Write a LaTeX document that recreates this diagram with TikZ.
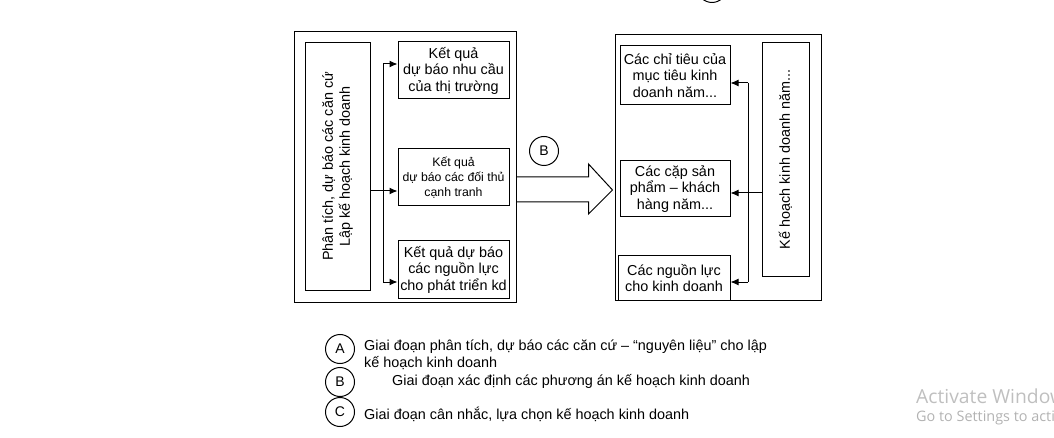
\documentclass[tikz,border=0pt]{standalone}
\usepackage{fontspec}
\setmainfont{Liberation Sans}
\newfontfamily\wmfont{Open Sans}
\usetikzlibrary{arrows.meta,positioning,calc}

\tikzset{
  khung/.style={draw,line width=1pt},
  hop/.style={draw,line width=1pt,inner sep=1pt,align=center,font=\fontsize{14.4}{16.5}\selectfont},
  hopdoc/.style={hop,rotate=90,font=\fontsize{14.4}{17}\selectfont},
  vong/.style={draw,circle,line width=1pt,minimum size=29pt,inner sep=0pt,font=\fontsize{14}{16}\selectfont},
  chuthich/.style={anchor=west,align=left,inner sep=0pt,font=\fontsize{14.4}{17}\selectfont},
  mui/.style={line width=1pt,-{Latex[length=8pt,width=7pt]}},
}

\begin{document}
\begin{tikzpicture}[x=1pt,y=-1pt]
  \useasboundingbox (0,0) rectangle (1054,438);
  \clip (0,0) rectangle (1054,438);
  % giai doan A
  \node[khung,minimum width=222pt,minimum height=270pt] (outerA) at (405,167) {};
  \node[hopdoc,minimum width=247pt,minimum height=65pt] (phantich) at (337.5,166.5)
    {Phân tích, dự báo các căn cứ\\Lập kế hoạch kinh doanh};
  \node[hop,minimum width=111pt,minimum height=57pt] (kq1) at (453.5,70.5)
    {Kết quả\\dự báo nhu cầu\\của thị trường};
  \node[hop,minimum width=111pt,minimum height=57pt,font=\fontsize{12.3}{15}\selectfont] (kq2) at (453.5,177.5)
    {Kết quả\\dự báo các đối thủ\\cạnh tranh};
  \node[hop,minimum width=111pt,minimum height=57pt] (kq3) at (453.5,269.5)
    {Kết quả dự báo\\các nguồn lực\\cho phát triển kd};
  \coordinate (jA) at (383,191);
  \coordinate (jAtop) at (383,64);
  \coordinate (jAbot) at (383,282);
  \draw[line width=1pt] (phantich.south |- jA) -- (jA);
  \draw[line width=1pt] (jAtop) -- (jAbot);
  \draw[mui] (jAtop) -- (jAtop -| kq1.west);
  \draw[mui] (jA) -- (jA -| kq2.west);
  \draw[mui] (jAbot) -- (jAbot -| kq3.west);

  % mui ten B
  \draw[line width=1pt] (outerA.east |- 0,177) -- ++(72,0) -- ++(0,-13) -- ++(24,26)
    -- ++(-24,24) -- ++(0,-12) -- (outerA.east |- 0,202);
  \node[vong] (vongB) at (544,151) {B};
  \node[vong] (vongTop) at (712,-12) {};

  % giai doan C
  \node[khung,minimum width=206pt,minimum height=265pt] (outerC) at (718,167.5) {};
  \node[hop,minimum width=110pt,minimum height=59pt] (ct1) at (675,75.5)
    {Các chỉ tiêu của\\mục tiêu kinh\\doanh năm...};
  \node[hop,minimum width=110pt,minimum height=56pt] (ct2) at (675,189)
    {Các cặp sản\\phẩm – khách\\hàng năm...};
  \node[hop,minimum width=112pt,minimum height=44pt] (ct3) at (674,278)
    {Các nguồn lực\\cho kinh doanh};
  \node[hopdoc,minimum width=233pt,minimum height=47pt] (kehoach) at (785.5,159.5)
    {Kế hoạch kinh doanh năm...};
  \coordinate (jC) at (748,193);
  \coordinate (jCtop) at (748,83);
  \coordinate (jCbot) at (748,282);
  \draw[line width=1pt] (kehoach.north |- jC) -- (jC);
  \draw[line width=1pt] (jCtop) -- (jCbot);
  \draw[mui] (jCtop) -- (jCtop -| ct1.east);
  \draw[mui] (jC) -- (jC -| ct2.east);
  \draw[mui] (jCbot) -- (jCbot -| ct3.east);

  % chu thich
  \node[vong] (vongA1) at (340,349) {A};
  \node[vong] (vongB1) at (340,382) {B};
  \node[vong] (vongC1) at (340,412) {C};
  \node[chuthich] (ghiA) at (364,354.5)
    {Giai đoạn phân tích, dự báo các căn cứ – “nguyên liệu” cho lập\\kế hoạch kinh doanh};
  \node[chuthich] (ghiB) at (392,381) {Giai đoạn xác định các phương án kế hoạch kinh doanh};
  \node[chuthich] (ghiC) at (364,414) {Giai đoạn cân nhắc, lựa chọn kế hoạch kinh doanh};

  \node[anchor=west,inner sep=0pt,text=black!25,font=\wmfont\fontsize{19.3}{21}\selectfont] (wm1) at (916,396) {Activate Windows};
  \node[anchor=west,inner sep=0pt,text=black!30,font=\wmfont\fontsize{14.4}{16}\selectfont] (wm2) at (916,418) {Go to Settings to activate Windows.};
\end{tikzpicture}
\end{document}
